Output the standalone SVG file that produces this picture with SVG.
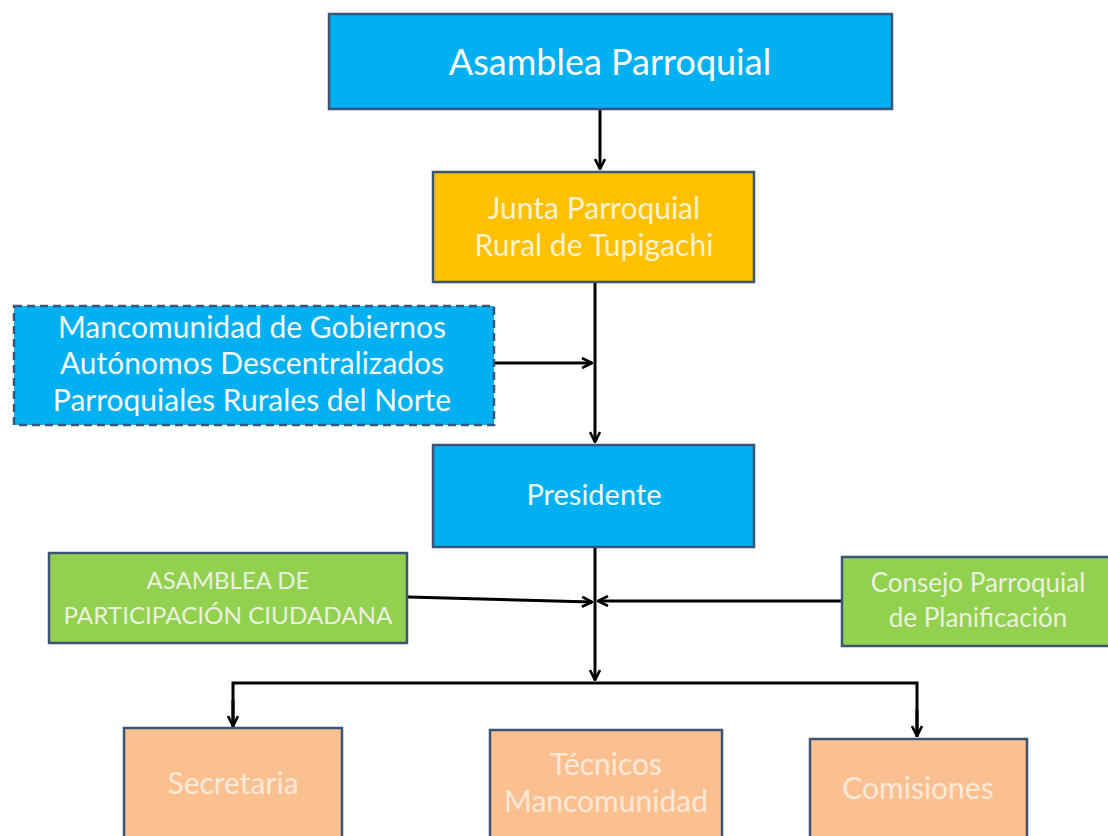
<svg xmlns="http://www.w3.org/2000/svg" width="1108" height="836" viewBox="0 0 1108 836">
<defs>
<marker id="ah" viewBox="0 0 12 12" refX="11" refY="6" markerWidth="12" markerHeight="12" markerUnits="userSpaceOnUse" orient="auto">
<path d="M1,1 L11,6 L1,11" fill="none" stroke="#000" stroke-width="2.6"/>
</marker>
<style>
.b{stroke:#3B5577;stroke-width:2.5}
.blue{fill:#00B0F0}
.org{fill:#FFC000}
.grn{fill:#92D050}
.sal{fill:#FAC090}
text{font-family:Lato,"Open Sans","Liberation Sans",sans-serif;text-anchor:middle}
.c{stroke:#000;stroke-width:3;fill:none}
</style>
</defs>
<rect width="1108" height="836" fill="#fff"/>
<g id="connectors">
<line class="c" x1="600" y1="110" x2="600" y2="169" marker-end="url(#ah)"/>
<line class="c" x1="595" y1="283" x2="595" y2="442" marker-end="url(#ah)"/>
<line class="c" x1="495" y1="363" x2="592" y2="363" marker-end="url(#ah)"/>
<line class="c" x1="595" y1="548" x2="595" y2="680" marker-end="url(#ah)"/>
<line class="c" x1="408" y1="597" x2="592" y2="602" marker-end="url(#ah)"/>
<line class="c" x1="842" y1="601" x2="598" y2="601" marker-end="url(#ah)"/>
<polyline class="c" points="233,727 233,683 917,683 917,737"/>
<line class="c" x1="233" y1="700" x2="233" y2="726" marker-end="url(#ah)"/>
<line class="c" x1="917" y1="710" x2="917" y2="736" marker-end="url(#ah)"/>
</g>
<g id="asamblea-parroquial">
<rect class="b blue" x="329" y="14" width="563" height="95"/>
<text x="610" y="75" font-size="36" fill="#fff">Asamblea Parroquial</text>
</g>
<g id="junta">
<rect class="b org" x="433" y="172" width="321" height="110"/>
<text x="594" y="219" font-size="30" fill="#FFF2CC">Junta Parroquial</text>
<text x="594" y="256" font-size="30" fill="#FFF2CC">Rural de Tupigachi</text>
</g>
<g id="mancomunidad">
<rect class="blue" x="14" y="306" width="480" height="119" stroke="#3B5577" stroke-width="2.5" stroke-dasharray="8,5"/>
<text x="252" y="338" font-size="30" fill="#F2F9FF">Mancomunidad de Gobiernos</text>
<text x="252" y="374" font-size="30" fill="#F2F9FF">Autónomos Descentralizados</text>
<text x="252" y="411" font-size="30" fill="#F2F9FF">Parroquiales Rurales del Norte</text>
</g>
<g id="presidente">
<rect class="b blue" x="433" y="445" width="321" height="102"/>
<text x="594" y="505" font-size="29" fill="#F2F9FF">Presidente</text>
</g>
<g id="asamblea-participacion">
<rect class="b grn" x="49" y="553" width="358" height="90"/>
<text x="228" y="589" font-size="24" fill="#EBF1DE">ASAMBLEA DE</text>
<text x="228" y="624" font-size="24" fill="#EBF1DE" textLength="329" lengthAdjust="spacingAndGlyphs">PARTICIPACIÓN CIUDADANA</text>
</g>
<g id="consejo">
<rect class="b grn" x="842" y="557" width="270" height="89"/>
<text x="978" y="592" font-size="26" fill="#EBF1DE">Consejo Parroquial</text>
<text x="978" y="627" font-size="26" fill="#EBF1DE">de Planificación</text>
</g>
<g id="secretaria">
<rect class="b sal" x="124" y="728" width="218" height="112"/>
<text x="233" y="794" font-size="30" fill="#FDE9D9">Secretaria</text>
</g>
<g id="tecnicos">
<rect class="b sal" x="490" y="730" width="232" height="110"/>
<text x="606" y="775" font-size="30" fill="#FDE9D9">Técnicos</text>
<text x="606" y="812" font-size="30" fill="#FDE9D9">Mancomunidad</text>
</g>
<g id="comisiones">
<rect class="b sal" x="810" y="739" width="217" height="101"/>
<text x="918" y="799" font-size="30" fill="#FDE9D9">Comisiones</text>
</g>
</svg>
